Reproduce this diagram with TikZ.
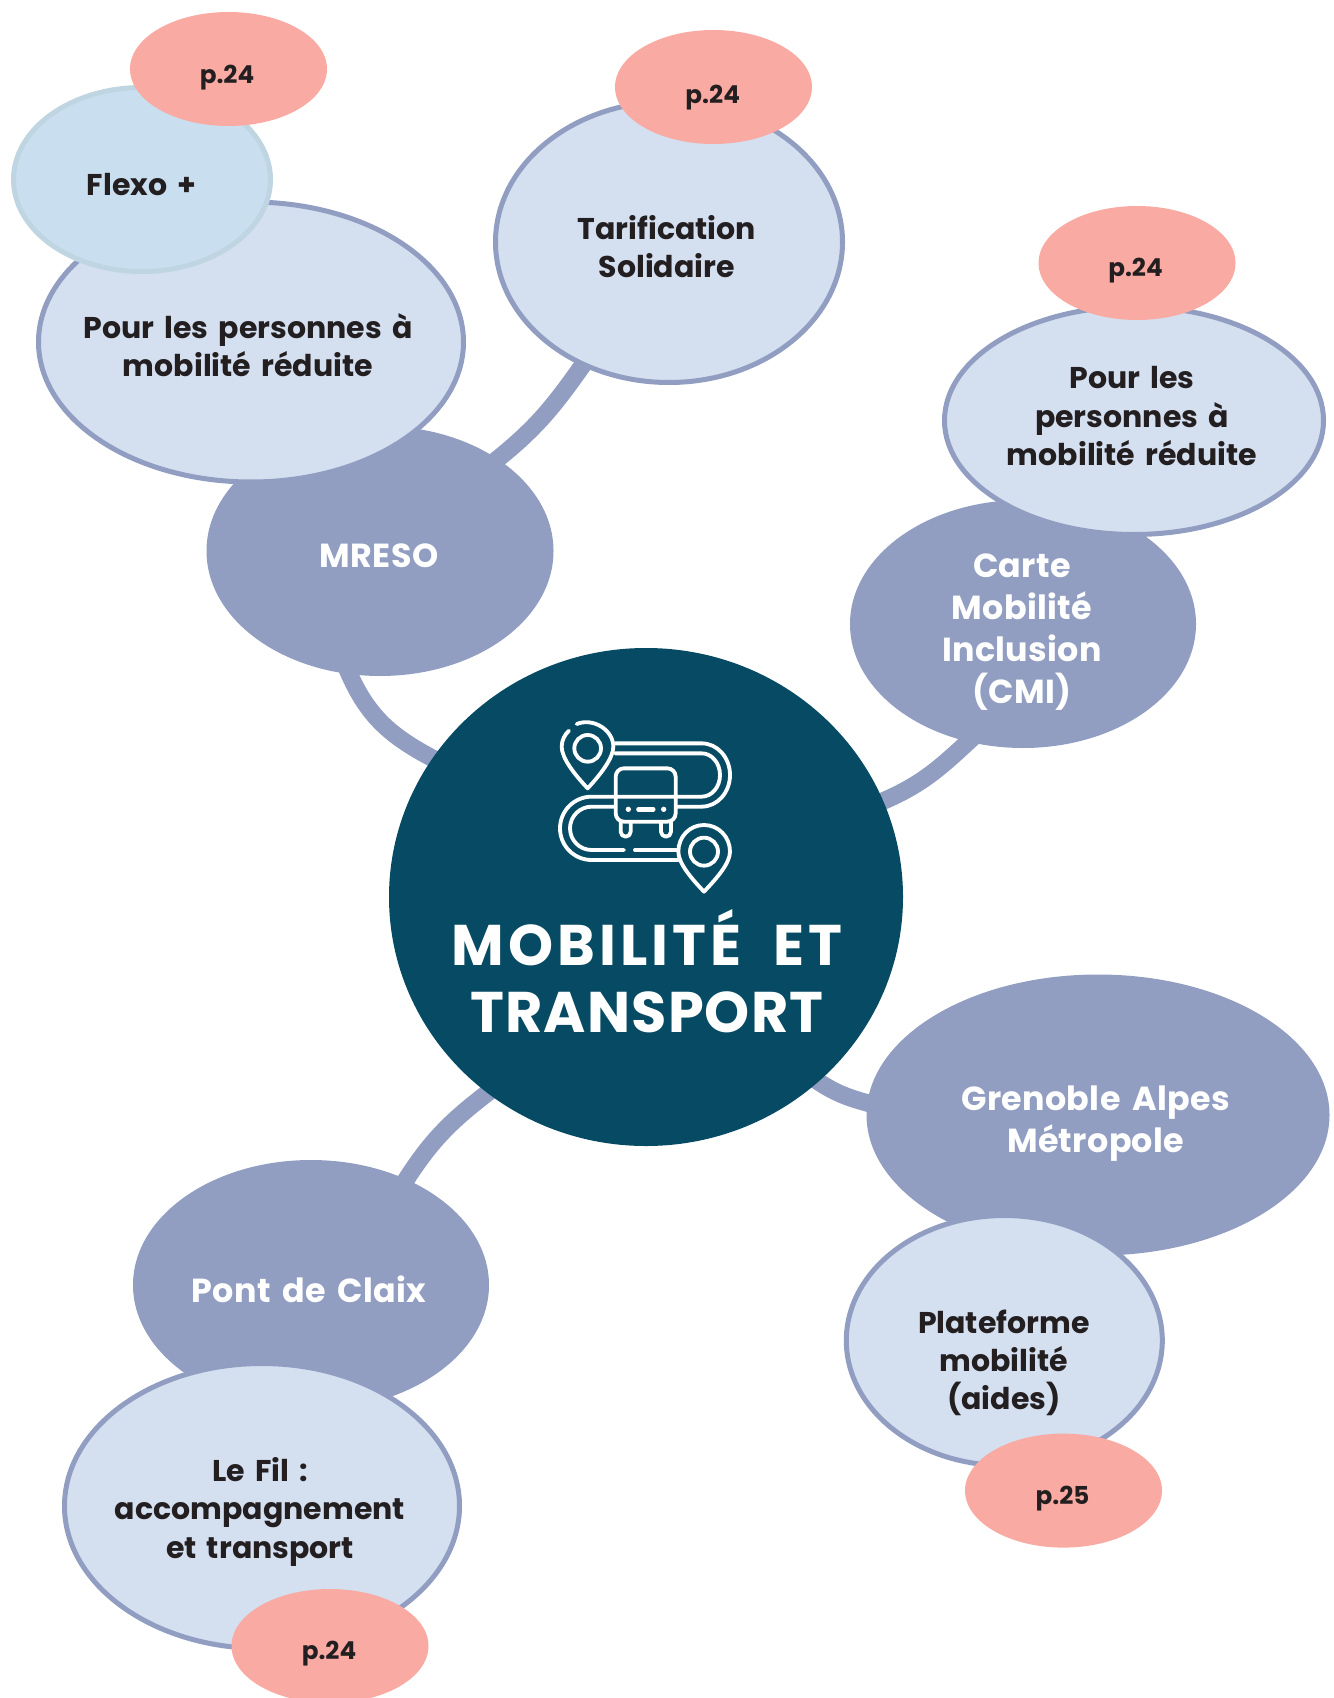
\documentclass[tikz,border=0pt]{standalone}
\usepackage{fontspec}
\setmainfont{Poppins}[WordSpace=1.6]
\newfontfamily\lightfont{Poppins}[LetterSpace=1,WordSpace=1.6]
\newfontfamily\titlefont{Poppins}[WordSpace=2]
\usetikzlibrary{shapes.geometric,backgrounds}
\definecolor{navy}{HTML}{064A63}
\definecolor{midblue}{HTML}{919EC2}
\definecolor{paleblue}{HTML}{D4DFF0}
\definecolor{skyfill}{HTML}{C9DFEF}
\definecolor{skyline}{HTML}{BFD6E2}
\definecolor{salmon}{HTML}{F9ABA3}
\definecolor{ink}{HTML}{231F20}
\tikzset
{
	sized/.style 2 args = {ellipse, inner sep=0pt, minimum width=#1*0.6pt, minimum height=#2*0.6pt},
	midnode/.style  = {fill=midblue},
	palenode/.style = {fill=paleblue, draw=midblue, line width=3pt},
	flexonode/.style = {fill=skyfill, draw=skyline, line width=3pt},
	pagenode/.style = {fill=salmon, sized={197}{114}},
	darktext/.style = {anchor=base, align=center, text=ink, font=\fontsize{18}{23}\selectfont\bfseries},
	lighttext/.style = {anchor=base, align=center, text=white, font=\lightfont\fontsize{20}{25.3}\selectfont\bfseries},
	pagetext/.style = {anchor=base, align=center, text=ink, font=\fontsize{14.8}{18}\selectfont\bfseries},
	titletext/.style = {anchor=base, align=center, text=white, font=\titlefont\fontsize{34.4}{40.4}\selectfont\bfseries},
	branch/.style = {draw=midblue, line width=10.5pt, shorten <=-6pt, shorten >=-6pt},
	iconline/.style = {draw=white, line width=2.3pt, line cap=round, line join=round}
}

\begin{document}
\begin{tikzpicture}[x=0.6pt, y=-0.6pt]
\useasboundingbox (0,0) rectangle (1333,1698);
\clip (0,0) rectangle (1333,1698);

% main circle and first level
\node[sized={514}{498}, fill=navy] (central) at (646,897) {};
\node[midnode, sized={347}{250}] (mreso) at (380,551) {};
\node[midnode, sized={346}{248}] (cmi) at (1023,624) {};
\node[midnode, sized={463}{281}] (metro) at (1098,1115) {};
\node[midnode, sized={356}{250}] (pont) at (311,1285) {};

% second level
\node[palenode, sized={425}{280}] (pmrleft) at (251,342) {};
\node[flexonode, sized={257}{184}] (flexo) at (142,179.5) {};
\node[palenode, sized={347}{281}] (tarif) at (669,242) {};
\node[palenode, sized={379}{228}] (pmrright) at (1134,420.5) {};
\node[palenode, sized={316}{250}] (plateforme) at (1004.3,1340.5) {};
\node[palenode, sized={395}{285}] (lefil) at (262,1506) {};

% page numbers
\node[pagenode] (pageflexo) at (228.5,69) {};
\node[pagenode] (pagetarif) at (713.5,87) {};
\node[pagenode] (pagepmr) at (1137,263) {};
\node[pagenode] (pageplate) at (1063.5,1490.6) {};
\node[pagenode] (pagefil) at (330,1646) {};

% branches
\begin{scope}[on background layer]
\draw[branch] (mreso.256.6) to[out=-68,in=153] (central.147);
\draw[branch] (tarif.235.7) to[out=-125,in=38] (mreso.38.7);
\draw[branch] (cmi.245.8) to[out=-137,in=22] (central.22.3);
\draw[branch] (metro.177.3) to[out=165,in=-35] (central.-47);
\draw[branch] (pont.48.4) to[out=58,in=217] (central.231.3);
\end{scope}

% texts
\node[titletext] (titletxt) at (647,1032.7) {{\addfontfeature{LetterSpace=7}MOBILITÉ ET}\\{\addfontfeature{LetterSpace=2}TRANSPORT}};
\node[lighttext] (mresotxt) at (379,567.6) {MRESO};
\node[lighttext] (cmitxt) at (1022,703.5) {Carte\\Mobilité\\Inclusion\\(CMI)};
\node[lighttext] (metrotxt) at (1095.7,1152.5) {Grenoble Alpes\\Métropole};
\node[lighttext] (ponttxt) at (309,1302) {Pont de Claix};
\node[darktext] (pmrlefttxt) at (248,376.7) {Pour les personnes à\\mobilité réduite};
\node[darktext] (flexotxt) at (141.5,195.7) {Flexo +};
\node[darktext] (tariftxt) at (666.8,277.9) {Tarification\\Solidaire};
\node[darktext] (pmrrighttxt) at (1132,465.5) {Pour les\\personnes à\\mobilité réduite};
\node[darktext] (platetxt) at (1003.8,1409.7) {Plateforme\\mobilité\\(aides)};
\node[darktext] (filtxt) at (260,1558) {Le Fil :\\accompagnement\\et transport};
\node[pagetext] (p1txt) at (227,83.3) {p.24};
\node[pagetext] (p2txt) at (712.7,103.4) {p.24};
\node[pagetext] (p3txt) at (1135.5,276.5) {p.24};
\node[pagetext] (p4txt) at (1062.5,1504) {p.25};
\node[pagetext] (p5txt) at (329,1659) {p.24};

% bus icon
\begin{scope}[shift={(520,690)}, x=0.2pt, y=-0.2pt]
\draw[iconline] (203,175) circle[radius=40];
\draw[iconline] (170,102) .. controls (220,82) and (280,120) .. (280,170) .. controls (280,205) and (240,255) .. (203,295) .. controls (165,255) and (125,205) .. (125,170) .. controls (125,150) and (135,133) .. (147,122);
\draw[iconline] (552,485) circle[radius=42];
\draw[iconline] (552,405) .. controls (595,405) and (630,440) .. (630,485) .. controls (630,520) and (590,565) .. (552,605) .. controls (514,565) and (475,520) .. (475,485) .. controls (475,440) and (509,405) .. (552,405) -- cycle;
\draw[iconline] (285,160) -- (545,160) arc[start angle=-90, end angle=90, x radius=85, y radius=95] -- (470,350);
\draw[iconline] (285,190) -- (545,190) arc[start angle=-90, end angle=90, x radius=55, y radius=65] -- (215,320) arc[start angle=-90, end angle=-270, radius=95] -- (475,510);
\draw[iconline] (285,350) -- (215,350) arc[start angle=-90, end angle=-270, radius=65] -- (312,480);
\draw[iconline] (345,480) -- (470,480);
\draw[iconline, rounded corners=5pt] (287,320) -- (287,235) -- (467,235) -- (467,395) -- (287,395) -- cycle;
\draw[iconline] (302,395) -- (302,425) arc[start angle=180, end angle=0, radius=15] -- (332,395);
\draw[iconline] (423,395) -- (423,425) arc[start angle=180, end angle=0, radius=15] -- (453,395);
\fill[white] (325,358) circle[radius=8] (431,358) circle[radius=8];
\draw[iconline, line width=2.6pt] (355,358) -- (400,358);
\end{scope}
\end{tikzpicture}
\end{document}
